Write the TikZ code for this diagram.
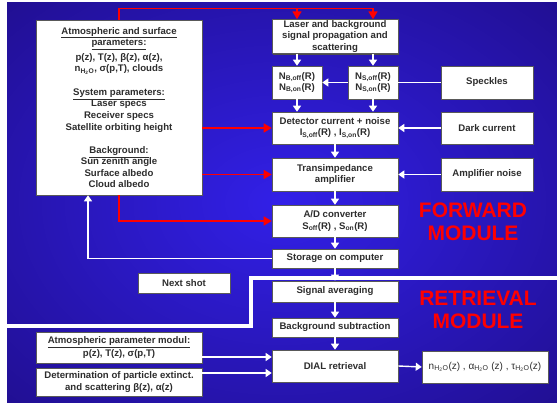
\documentclass[tikz,border=0pt]{standalone}
\usepackage{fontspec}
\setmainfont{Liberation Sans}
\usetikzlibrary{arrows.meta,shadows}
\definecolor{bgin}{RGB}{50,32,232}
\definecolor{bgout}{RGB}{26,8,112}
\definecolor{txt}{RGB}{45,45,45}
\definecolor{sred}{RGB}{255,0,0}
\pgfdeclareradialshading{bgshade}{\pgfpoint{0bp}{0bp}}{color(0bp)=(bgin); color(50bp)=(bgout); color(72bp)=(bgout)}
\begin{document}
\begin{tikzpicture}[x=1pt,y=-1pt,
 box/.style={draw=black!65, fill=white, line width=0.6pt, text=txt,
   font=\fontsize{9.6}{11.4}\selectfont\bfseries, align=center, inner sep=1pt,
   drop shadow={shadow xshift=1.2pt, shadow yshift=-1.2pt, fill=black!70, opacity=1}},
 warrow/.style={draw=white, line width=1.4pt, -{Triangle[width=8pt,length=6pt]}},
 wline/.style={draw=white, line width=1.4pt},
 rarrow/.style={draw=sred, line width=1.6pt, -{Triangle[width=9pt,length=8pt]}},
 modtxt/.style={text=sred, font=\fontsize{21}{23}\selectfont\bfseries, align=center}
]
\useasboundingbox (0,0) rectangle (557,403);
\fill[white] (0,0) rectangle (557,403);
\shade[shading=bgshade] (7,3) rectangle (557,403);
% separator between modules
\draw[white, line width=4.5pt] (7,326) -- (251,326) -- (251,278) -- (557,278);

% boxes
\node[box, minimum width=166pt, minimum height=175pt] (par) at (119,107.5) {%
\underline{Atmospheric and surface}\\
\underline{parameters:}\\[3.5pt]
p(z), T(z), β(z), α(z),\\
n\textsubscript{H\textsubscript{2}O}, σ(p,T), clouds\\[12pt]
\underline{System parameters:}\\
Laser specs\\[0.5pt]
Receiver specs\\
Satellite orbiting height\\[12pt]
\underline{Background:}\\
Sun zenith angle\\
Surface albedo\\
Cloud albedo};
\node[box, minimum width=126pt, minimum height=33pt] (las) at (335,36.5) {Laser and background\\signal propagation and\\scattering};
\node[box, minimum width=50pt, minimum height=33pt] (nb) at (297,82.5) {N\textsubscript{B,off}(R)\\N\textsubscript{B,on}(R)};
\node[box, minimum width=50pt, minimum height=33pt] (ns) at (373,82.5) {N\textsubscript{S,off}(R)\\N\textsubscript{S,on}(R)};
\node[box, minimum width=92pt, minimum height=33pt] (spk) at (487,82.5) {Speckles};
\node[box, minimum width=126pt, minimum height=32pt] (det) at (335,128) {Detector current + noise\\I\textsubscript{S,off}(R) , I\textsubscript{S,on}(R)};
\node[box, minimum width=92pt, minimum height=32pt] (dark) at (487,128) {Dark current};
\node[box, minimum width=126pt, minimum height=33pt] (tra) at (335,174.5) {Transimpedance\\amplifier};
\node[box, minimum width=92pt, minimum height=33pt] (amp) at (487,174.5) {Amplifier noise};
\node[box, minimum width=126pt, minimum height=32pt] (ad) at (335,221) {A/D converter\\S\textsubscript{off}(R) , S\textsubscript{on}(R)};
\node[box, minimum width=126pt, minimum height=19pt] (sto) at (335,258.5) {Storage on computer};
\node[box, minimum width=126pt, minimum height=21pt] (avg) at (335,291.5) {Signal averaging};
\node[box, minimum width=126pt, minimum height=19pt] (bgs) at (335,327.5) {Background subtraction};
\node[box, minimum width=126pt, minimum height=32pt] (dial) at (335,366) {DIAL retrieval};
\node[box, minimum width=126pt, minimum height=32pt, font=\fontsize{10}{12}\selectfont] (out) at (485,367) {n\textsubscript{H\textsubscript{2}O}(z) , α\textsubscript{H\textsubscript{2}O} (z) , τ\textsubscript{H\textsubscript{2}O}(z)};
\node[box, minimum width=92pt, minimum height=20pt] (nxt) at (184,283) {Next shot};
\node[box, minimum width=166pt, minimum height=31pt] (atm) at (119,347.5) {\underline{Atmospheric parameter modul:}\\[1pt]p(z), T(z), σ(p,T)};
\node[box, minimum width=166pt, minimum height=28pt] (ext) at (119,382) {Determination of particle extinct.\\and scattering β(z), α(z)};

% module labels
\node[modtxt] (fwd) at (473,222) {FORWARD\\MODULE};
\node[modtxt] (ret) at (478,310) {RETRIEVAL\\MODULE};

% red connectors
\coordinate (rt) at ([yshift=11pt]las.north);
\draw[rarrow] (par.north) |- (rt -| ns.north) -- (las.north -| ns.north);
\draw[rarrow] (rt -| nb.north) -- (las.north -| nb.north);
\draw[rarrow] (par.east |- det.west) -- (det.west);
\draw[rarrow] (par.east |- tra.west) -- (tra.west);
\draw[rarrow] (par.south) |- (ad.west);

% white connectors
\draw[warrow] (las.south -| nb.north) -- (nb.north);
\draw[warrow] (las.south -| ns.north) -- (ns.north);
\draw[warrow] (nb.south) -- (nb.south |- det.north);
\draw[warrow] (ns.south) -- (ns.south |- det.north);
\draw[wline] (spk.west) -- (ns.east);
\draw[warrow] (ns.west) -- (nb.east);
\draw[warrow] (dark.west) -- (det.east);
\draw[warrow] (amp.west) -- (tra.east);
\draw[warrow] (det.south) -- (tra.north);
\draw[warrow] (tra.south) -- (ad.north);
\draw[warrow] (ad.south) -- (sto.north);
\draw[warrow] (sto.south) -- (avg.north);
\draw[warrow] (avg.south) -- (bgs.north);
\draw[warrow] (bgs.south) -- (dial.north);
\draw[warrow] (dial.east) -- (out.west);
\draw[warrow] (sto.west) -| ([xshift=-31pt]par.south);
\coordinate (a1) at ([yshift=-9.5pt]atm.east);
\coordinate (a2) at ([yshift=9pt]ext.east);
\draw[warrow] (a1) -- (a1 -| dial.west);
\draw[warrow] (a2) -- (a2 -| dial.west);
\end{tikzpicture}
\end{document}
